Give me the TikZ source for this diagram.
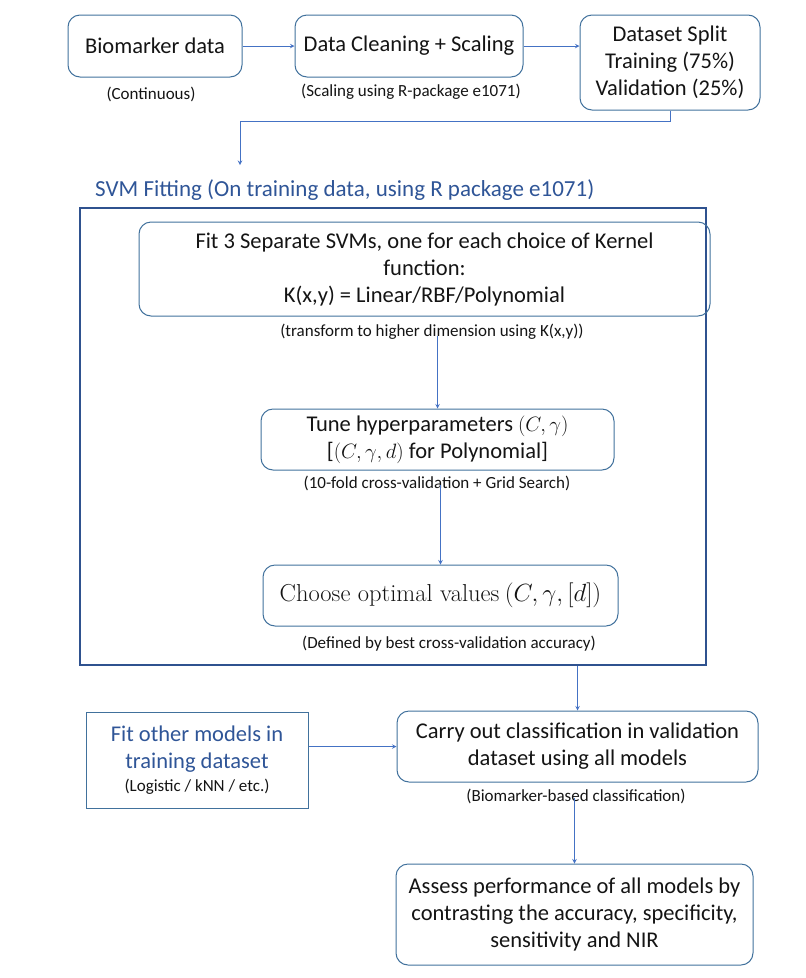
\documentclass[tikz,border=0pt]{standalone}
\usepackage{fontspec}
\setmainfont{Carlito}
\newfontfamily\cambria{Latin Modern Roman}
\definecolor{boxblue}{RGB}{65,113,156}
\definecolor{linkblue}{RGB}{68,114,196}
\definecolor{frameblue}{RGB}{47,82,143}
\definecolor{titleblue}{RGB}{47,85,151}
\definecolor{inkgray}{RGB}{20,20,20}
\tikzset{
  stepbox/.style={draw=boxblue, rounded corners=12pt, line width=1pt, align=center, inner sep=0pt, text=inkgray, font=\fontsize{22.5}{27}\selectfont},
  note/.style={align=center, inner sep=0pt, text=inkgray, font=\fontsize{17}{20}\selectfont},
  link/.style={draw=linkblue, line width=1pt, -stealth},
}
\begin{document}
\begin{tikzpicture}[x=1pt,y=-1pt]
  \useasboundingbox (0,0) rectangle (806,978);
  \node[stepbox, minimum width=174pt, minimum height=62pt] (bio) at (155,46) {Biomarker data};
  \node[stepbox, minimum width=228pt, minimum height=62pt] (clean) at (409,46) {Data Cleaning + Scaling};
  \node[stepbox, minimum width=180pt, minimum height=95pt] (split) at (670,62.5) {Dataset Split\\Training (75\%)\\Validation (25\%)};
  \node[note] (bionote) at (151,94) {(Continuous)};
  \node[note] (cleannote) at (411,92) {(Scaling using R-package e1071)};
  \coordinate (svmtop) at (240,165);
  \node[anchor=west, inner sep=0pt, text=titleblue, font=\fontsize{23}{27}\selectfont] (svmtitle) at (95,190) {SVM Fitting (On training data, using R package e1071)};
  \node[draw=frameblue, line width=1.8pt, minimum width=626pt, minimum height=457pt, inner sep=0pt] (svmbox) at (393,436.5) {};
  \node[stepbox, minimum width=571pt, minimum height=94pt] (fit) at (424.5,269) {Fit 3 Separate SVMs, one for each choice of Kernel\\function:\\K(x,y) = Linear/RBF/Polynomial};
  \node[note] (fitnote) at (432,332) {(transform to higher dimension using K(x,y))};
  \node[stepbox, minimum width=353pt, minimum height=61pt] (tune) at (437.5,439.5) {Tune hyperparameters $(C,\gamma)$\\{}[$(C,\gamma,d)$ for Polynomial]};
  \node[note] (tunenote) at (437,483) {(10-fold cross-validation + Grid Search)};
  \node[stepbox, minimum width=355pt, minimum height=61pt, font=\fontsize{24.5}{28}\selectfont] (choose) at (440.5,595.5) {{\cambria Choose optimal values} $(C,\gamma,[d])$};
  \node[note] (choosenote) at (449,644) {(Defined by best cross-validation accuracy)};
  \node[draw=boxblue, line width=1pt, minimum width=222pt, minimum height=96pt, inner sep=0pt, align=center, text=inkgray, font=\fontsize{22.5}{27}\selectfont] (other) at (197,760) {\textcolor{titleblue}{Fit other models in}\\\textcolor{titleblue}{training dataset}\\[-4pt]{\fontsize{17}{20}\selectfont (Logistic / kNN / etc.)}};
  \node[stepbox, minimum width=361pt, minimum height=71pt] (carry) at (577.5,746.5) {Carry out classification in validation\\dataset using all models};
  \node[note] (carrynote) at (576,796) {(Biomarker-based classification)};
  \node[stepbox, minimum width=357pt, minimum height=101pt] (assess) at (574.5,914.5) {Assess performance of all models by\\contrasting the accuracy, specificity,\\sensitivity and NIR};
  \draw[link] (bio.east) -- (clean.west);
  \draw[link] (clean.east) -- (clean.east -| split.west);
  \draw[link] (split.south) -- ++(0,11) -| (svmtop);
  \draw[link] ([yshift=4pt]fitnote.south -| tune.north) -- (tune.north);
  \draw[link] ([yshift=6pt]tunenote.south -| choose.north) -- (choose.north);
  \draw[link] (svmbox.south -| carry.north) -- (carry.north);
  \draw[link] (other.east |- carry.west) -- (carry.west);
  \draw[link] ([yshift=6pt]carrynote.south -| assess.north) -- (assess.north);
\end{tikzpicture}
\end{document}
